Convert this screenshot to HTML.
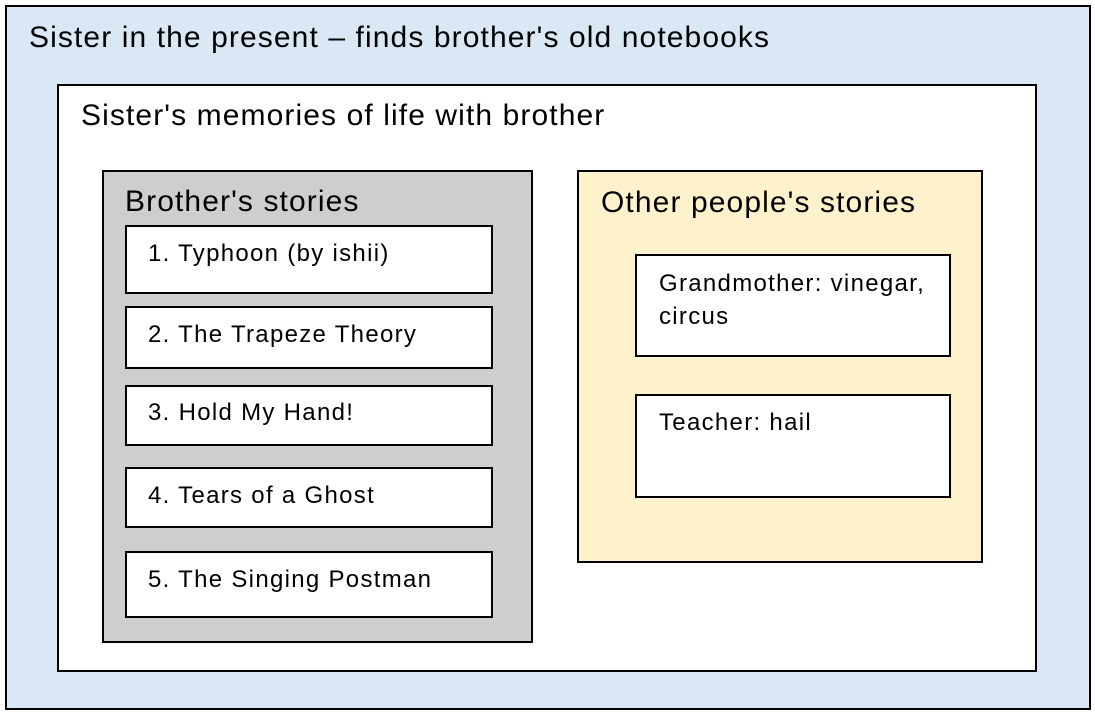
<!DOCTYPE html>
<html><head><style>
body{margin:0;width:1095px;height:712px;background:#fff;font-family:"Liberation Sans",Arial,sans-serif;color:#000;overflow:hidden}
.b{position:absolute;box-sizing:border-box;border:2px solid #000}
.t{position:absolute;white-space:nowrap}
.h{font-size:30px;letter-spacing:1.1px}
.i{font-size:24px;line-height:33px;letter-spacing:1.3px}
</style></head><body>
<div class="b" style="left:5px;top:5px;width:1086px;height:705px;background:#dae8f5"></div>
<div class="t h" style="left:29px;top:21px">Sister in the present – finds brother's old notebooks</div>
<div class="b" style="left:57px;top:84px;width:980px;height:588px;background:#fff"></div>
<div class="t h" style="left:81px;top:99px">Sister's memories of life with brother</div>
<div class="b" style="left:102px;top:170px;width:431px;height:473px;background:#cfcdcf"></div>
<div class="t h" style="left:125px;top:185px">Brother's stories</div>
<div class="b" style="left:125px;top:225px;width:368px;height:69px;background:#fff"></div>
<div class="t i" style="left:148px;top:237px">1. Typhoon (by ishii)</div>
<div class="b" style="left:125px;top:306px;width:368px;height:63px;background:#fff"></div>
<div class="t i" style="left:148px;top:318px">2. The Trapeze Theory</div>
<div class="b" style="left:125px;top:385px;width:368px;height:61px;background:#fff"></div>
<div class="t i" style="left:148px;top:396px">3. Hold My Hand!</div>
<div class="b" style="left:125px;top:467px;width:368px;height:61px;background:#fff"></div>
<div class="t i" style="left:148px;top:479px">4. Tears of a Ghost</div>
<div class="b" style="left:125px;top:551px;width:368px;height:67px;background:#fff"></div>
<div class="t i" style="left:148px;top:563px">5. The Singing Postman</div>
<div class="b" style="left:577px;top:170px;width:406px;height:393px;background:#fef2cc"></div>
<div class="t h" style="left:601px;top:186px">Other people's stories</div>
<div class="b" style="left:635px;top:254px;width:316px;height:103px;background:#fff"></div>
<div class="t i" style="left:659px;top:267px">Grandmother: vinegar,<br>circus</div>
<div class="b" style="left:635px;top:394px;width:316px;height:104px;background:#fff"></div>
<div class="t i" style="left:659px;top:406px">Teacher: hail</div>
</body></html>
